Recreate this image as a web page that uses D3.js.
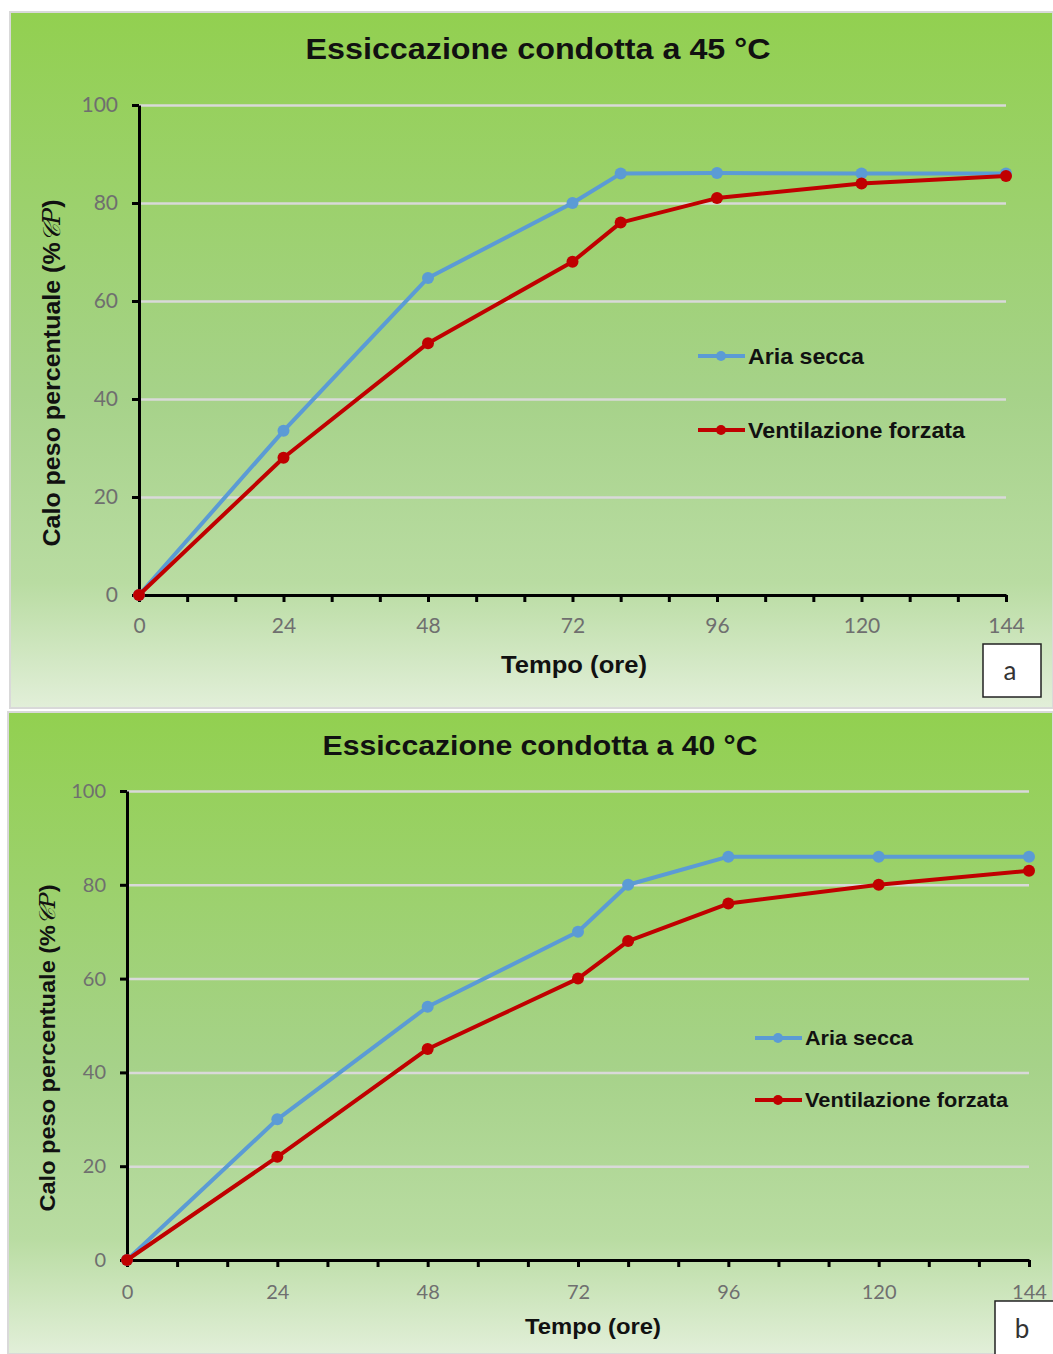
<!DOCTYPE html>
<html>
<head>
<meta charset="utf-8">
<script src="https://cdn.jsdelivr.net/npm/d3@7"></script>
<style>
  body { margin: 0; background: #fff; }
  svg { display: block; }
  .tick text { fill: #6f6f6f; font-family: Lato, "Open Sans", sans-serif; }
  .title, .axis-title, .legend text { font-family: "Liberation Sans", Arial, sans-serif; font-weight: bold; fill: #111; }
</style>
</head>
<body>
<div id="chart"></div>
<script>
// x values (hours)
const hours = [0, 24, 48, 72, 80, 96, 120, 144];
const xTicks = [0, 24, 48, 72, 96, 120, 144];
const yTicks = [0, 20, 40, 60, 80, 100];
const seriesNames = ['Aria secca', 'Ventilazione forzata'];
const seriesColors = ['#5b9bd5', '#c00000'];

// 45 °C
const aria45 = [0, 33.5, 64.7, 80, 86, 86.1, 86, 86];
const vent45 = [0, 28, 51.4, 68, 76, 81, 84, 85.5];
// 40 °C
const aria40 = [0, 30, 54, 70, 80, 86, 86, 86];
const vent40 = [0, 22, 45, 60, 68, 76, 80, 83];

const panels = [
    {title: 'Essiccazione condotta a 45 °C', tag: 'a', series: [aria45, vent45],
     box: [10, 12, 1043, 696], plot: [139, 105, 1006, 595],
     titleX: 538, titleY: 59, titleLen: 465, titleSize: 30,
     ylabel: [60, 373, 347, 24], xtitle: [574, 673, 146, 24], tickSize: 21, xLabelY: 1.35,
     legend: [698, 356, 430], legendSize: 22, legendLen: [116, 217],
     tagBox: [983, 644, 58, 53]},
    {title: 'Essiccazione condotta a 40 °C', tag: 'b', series: [aria40, vent40],
     box: [8, 712, 1045, 642], plot: [127, 791, 1029, 1260],
     titleX: 540, titleY: 755, titleLen: 435, titleSize: 28,
     ylabel: [55, 1048, 327, 22.5], xtitle: [593, 1334, 136, 22.5], tickSize: 20, xLabelY: 1.45,
     legend: [755, 1038, 1100], legendSize: 21, legendLen: [108, 203],
     tagBox: [995, 1301, 62, 56]}
];

const svg = d3.select('#chart').append('svg')
    .attr('width', 1053)
    .attr('height', 1354);

const defs = svg.append('defs');
const grad = defs.append('linearGradient')
    .attr('id', 'bg')
    .attr('x1', 0).attr('y1', 0).attr('x2', 0).attr('y2', 1);
grad.append('stop').attr('offset', '0%').attr('stop-color', '#92d050');
grad.append('stop').attr('offset', '55%').attr('stop-color', '#a6d289');
grad.append('stop').attr('offset', '82%').attr('stop-color', '#b9dca2');
grad.append('stop').attr('offset', '100%').attr('stop-color', '#e2efd9');

panels.forEach(function(p) {
    const g = svg.append('g');

    g.append('rect')
        .attr('x', p.box[0]).attr('y', p.box[1])
        .attr('width', p.box[2]).attr('height', p.box[3])
        .attr('fill', 'url(#bg)')
        .attr('stroke', '#d9d9d9')
        .attr('stroke-width', 2);

    const x = d3.scaleLinear().domain([0, 144]).range([p.plot[0], p.plot[2]]);
    const y = d3.scaleLinear().domain([0, 100]).range([p.plot[3], p.plot[1]]);

    // gridlines
    g.append('g')
        .attr('transform', 'translate(' + p.plot[0] + ',0)')
        .call(d3.axisLeft(y).tickValues(yTicks.slice(1)).tickSize(-(p.plot[2] - p.plot[0])).tickFormat(''))
        .call(s => s.select('.domain').remove())
        .call(s => s.selectAll('.tick line').attr('stroke', '#d9d9d9').attr('stroke-width', 2.5));

    // x axis, minor ticks every 8 h
    const xAxis = g.append('g')
        .attr('transform', 'translate(0,' + p.plot[3] + ')')
        .call(d3.axisBottom(x).tickValues(d3.range(0, 145, 8)).tickSize(7).tickSizeOuter(0)
            .tickFormat(d => xTicks.includes(d) ? d : ''));
    xAxis.select('.domain').attr('stroke', '#000').attr('stroke-width', 3);
    xAxis.selectAll('.tick line').attr('stroke', '#000').attr('stroke-width', 3);
    xAxis.selectAll('.tick text').attr('dy', p.xLabelY + 'em').attr('font-size', p.tickSize);

    // y axis
    const yAxis = g.append('g')
        .attr('transform', 'translate(' + p.plot[0] + ',0)')
        .call(d3.axisLeft(y).tickValues(yTicks).tickSize(7).tickSizeOuter(0).tickPadding(14));
    yAxis.select('.domain').attr('stroke', '#000').attr('stroke-width', 3);
    yAxis.selectAll('.tick line').attr('stroke', '#000').attr('stroke-width', 3);
    yAxis.selectAll('.tick text').attr('font-size', p.tickSize);

    // titles
    g.append('text').attr('class', 'title')
        .attr('x', p.titleX).attr('y', p.titleY)
        .attr('text-anchor', 'middle').attr('font-size', p.titleSize)
        .attr('textLength', p.titleLen).attr('lengthAdjust', 'spacingAndGlyphs')
        .text(p.title);

    g.append('text').attr('class', 'axis-title')
        .attr('x', p.xtitle[0]).attr('y', p.xtitle[1])
        .attr('text-anchor', 'middle').attr('font-size', p.xtitle[3])
        .attr('textLength', p.xtitle[2]).attr('lengthAdjust', 'spacingAndGlyphs')
        .text('Tempo (ore)');

    const yl = g.append('text').attr('class', 'axis-title')
        .attr('transform', 'translate(' + p.ylabel[0] + ',' + p.ylabel[1] + ') rotate(-90)')
        .attr('text-anchor', 'middle').attr('font-size', p.ylabel[3])
        .attr('textLength', p.ylabel[2]).attr('lengthAdjust', 'spacingAndGlyphs');
    yl.append('tspan').text('Calo peso percentuale (%');
    yl.append('tspan').attr('font-family', '"DejaVu Serif", serif').attr('font-style', 'italic')
        .attr('font-weight', 'normal').text('𝒞P');
    yl.append('tspan').text(')');

    // lines
    const line = d3.line().x((d, i) => x(hours[i])).y(d => y(d));
    p.series.forEach(function(vals, k) {
        g.append('path')
            .attr('d', line(vals))
            .attr('fill', 'none')
            .attr('stroke', seriesColors[k])
            .attr('stroke-width', 4)
            .attr('stroke-linejoin', 'round');
        g.selectAll(null).data(vals).enter().append('circle')
            .attr('cx', (d, i) => x(hours[i]))
            .attr('cy', d => y(d))
            .attr('r', 6)
            .attr('fill', seriesColors[k]);
    });

    // legend
    const leg = g.append('g').attr('class', 'legend');
    seriesNames.forEach(function(name, k) {
        const ly = p.legend[k + 1];
        leg.append('line')
            .attr('x1', p.legend[0]).attr('x2', p.legend[0] + 47)
            .attr('y1', ly).attr('y2', ly)
            .attr('stroke', seriesColors[k]).attr('stroke-width', 4);
        leg.append('circle')
            .attr('cx', p.legend[0] + 23).attr('cy', ly).attr('r', 5)
            .attr('fill', seriesColors[k]);
        leg.append('text')
            .attr('x', p.legend[0] + 50).attr('y', ly).attr('dy', '0.35em')
            .attr('font-size', p.legendSize)
            .attr('textLength', p.legendLen[k]).attr('lengthAdjust', 'spacingAndGlyphs')
            .text(name);
    });

    // panel tag
    g.append('rect')
        .attr('x', p.tagBox[0]).attr('y', p.tagBox[1])
        .attr('width', p.tagBox[2]).attr('height', p.tagBox[3])
        .attr('fill', '#fff').attr('stroke', '#222').attr('stroke-width', 1.5);
    g.append('text')
        .attr('x', p.tagBox[0] + 27).attr('y', p.tagBox[1] + p.tagBox[3] / 2)
        .attr('dy', '0.35em').attr('text-anchor', 'middle')
        .attr('font-family', 'Lato, "Open Sans", sans-serif').attr('font-size', 26).attr('fill', '#333')
        .text(p.tag);
});
</script>
</body>
</html>
